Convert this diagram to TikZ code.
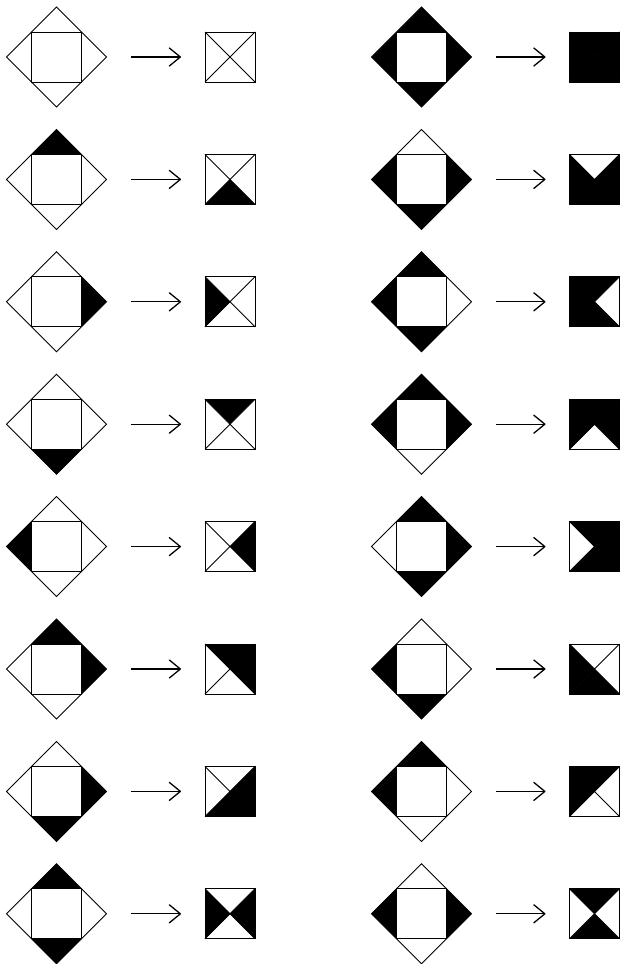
\documentclass[tikz,border=0pt]{standalone}
\usetikzlibrary{shapes.geometric,arrows.meta,calc}
\tikzset{
  dia/.style={shape=diamond,minimum width=100pt,minimum height=100pt,inner sep=0pt,outer sep=0pt},
  sqr/.style={shape=rectangle,minimum size=50pt,inner sep=0pt,outer sep=0pt},
  ln/.style={draw=black,line width=0.9pt,line join=miter},
  arr/.style={line width=1.2pt,-{Straight Barb[length=11pt,width=18pt,line width=1.3pt,round]}}
}
\newcommand\mydia[7]{%
  \node[dia] (#1) at (#2,#3) {};
  \coordinate (#1ne) at ($(#1.north)!0.5!(#1.east)$);
  \coordinate (#1se) at ($(#1.south)!0.5!(#1.east)$);
  \coordinate (#1sw) at ($(#1.south)!0.5!(#1.west)$);
  \coordinate (#1nw) at ($(#1.north)!0.5!(#1.west)$);
  \fill[#4] (#1.north) -- (#1ne) -- (#1nw) -- cycle;
  \fill[#5] (#1.east) -- (#1ne) -- (#1se) -- cycle;
  \fill[#6] (#1.south) -- (#1se) -- (#1sw) -- cycle;
  \fill[#7] (#1.west) -- (#1sw) -- (#1nw) -- cycle;
  \draw[ln] (#1.north) -- (#1.east) -- (#1.south) -- (#1.west) -- cycle;
  \draw[ln] (#1ne) -- (#1se) -- (#1sw) -- (#1nw) -- cycle;
}
\newcommand\mysq[7]{%
  \node[sqr] (#1) at (#2,#3) {};
  \fill[#4] (#1.north west) -- (#1.north east) -- (#1.center) -- cycle;
  \fill[#5] (#1.north east) -- (#1.south east) -- (#1.center) -- cycle;
  \fill[#6] (#1.south east) -- (#1.south west) -- (#1.center) -- cycle;
  \fill[#7] (#1.south west) -- (#1.north west) -- (#1.center) -- cycle;
  \draw[ln] (#1.north west) -- (#1.south east) (#1.north east) -- (#1.south west);
  \draw[ln] (#1.north west) rectangle (#1.south east);
}
\newcommand\myarrow[2]{\draw[arr] ([xshift=24pt]#1.east) -- ([xshift=-24pt]#2.west);}
\begin{document}
\begin{tikzpicture}[x=1pt,y=-1pt]
\useasboundingbox (0,0) rectangle (621,964);
\fill[white] (0,0) rectangle (621,964);
% left column
\def\xd{56.5}\def\xs{230}
\mydia{da}{\xd}{57}{white}{white}{white}{white}
\mysq{sa}{\xs}{57}{white}{white}{white}{white}
\myarrow{da}{sa}
\mydia{db}{\xd}{179.4}{black}{white}{white}{white}
\mysq{sb}{\xs}{179.4}{white}{white}{black}{white}
\myarrow{db}{sb}
\mydia{dc}{\xd}{301.8}{white}{black}{white}{white}
\mysq{sc}{\xs}{301.8}{white}{white}{white}{black}
\myarrow{dc}{sc}
\mydia{dd}{\xd}{424.2}{white}{white}{black}{white}
\mysq{sd}{\xs}{424.2}{black}{white}{white}{white}
\myarrow{dd}{sd}
\mydia{de}{\xd}{546.6}{white}{white}{white}{black}
\mysq{se}{\xs}{546.6}{white}{black}{white}{white}
\myarrow{de}{se}
\mydia{df}{\xd}{669}{black}{black}{white}{white}
\mysq{sf}{\xs}{669}{black}{black}{white}{white}
\myarrow{df}{sf}
\mydia{dg}{\xd}{791.4}{white}{black}{black}{white}
\mysq{sg}{\xs}{791.4}{white}{black}{black}{white}
\myarrow{dg}{sg}
\mydia{dh}{\xd}{913.8}{black}{white}{black}{white}
\mysq{sh}{\xs}{913.8}{white}{black}{white}{black}
\myarrow{dh}{sh}
% right column
\def\xd{421.5}\def\xs{594.5}
\mydia{ra}{\xd}{57}{black}{black}{black}{black}
\mysq{ta}{\xs}{57}{black}{black}{black}{black}
\myarrow{ra}{ta}
\mydia{rb}{\xd}{179.4}{white}{black}{black}{black}
\mysq{tb}{\xs}{179.4}{white}{black}{black}{black}
\myarrow{rb}{tb}
\mydia{rc}{\xd}{301.8}{black}{white}{black}{black}
\mysq{tc}{\xs}{301.8}{black}{white}{black}{black}
\myarrow{rc}{tc}
\mydia{rd}{\xd}{424.2}{black}{black}{white}{black}
\mysq{td}{\xs}{424.2}{black}{black}{white}{black}
\myarrow{rd}{td}
\mydia{re}{\xd}{546.6}{black}{black}{black}{white}
\mysq{te}{\xs}{546.6}{black}{black}{black}{white}
\myarrow{re}{te}
\mydia{rf}{\xd}{669}{white}{white}{black}{black}
\mysq{tf}{\xs}{669}{white}{white}{black}{black}
\myarrow{rf}{tf}
\mydia{rg}{\xd}{791.4}{black}{white}{white}{black}
\mysq{tg}{\xs}{791.4}{black}{white}{white}{black}
\myarrow{rg}{tg}
\mydia{rh}{\xd}{913.8}{white}{black}{white}{black}
\mysq{th}{\xs}{913.8}{black}{white}{black}{white}
\myarrow{rh}{th}
\end{tikzpicture}
\end{document}
